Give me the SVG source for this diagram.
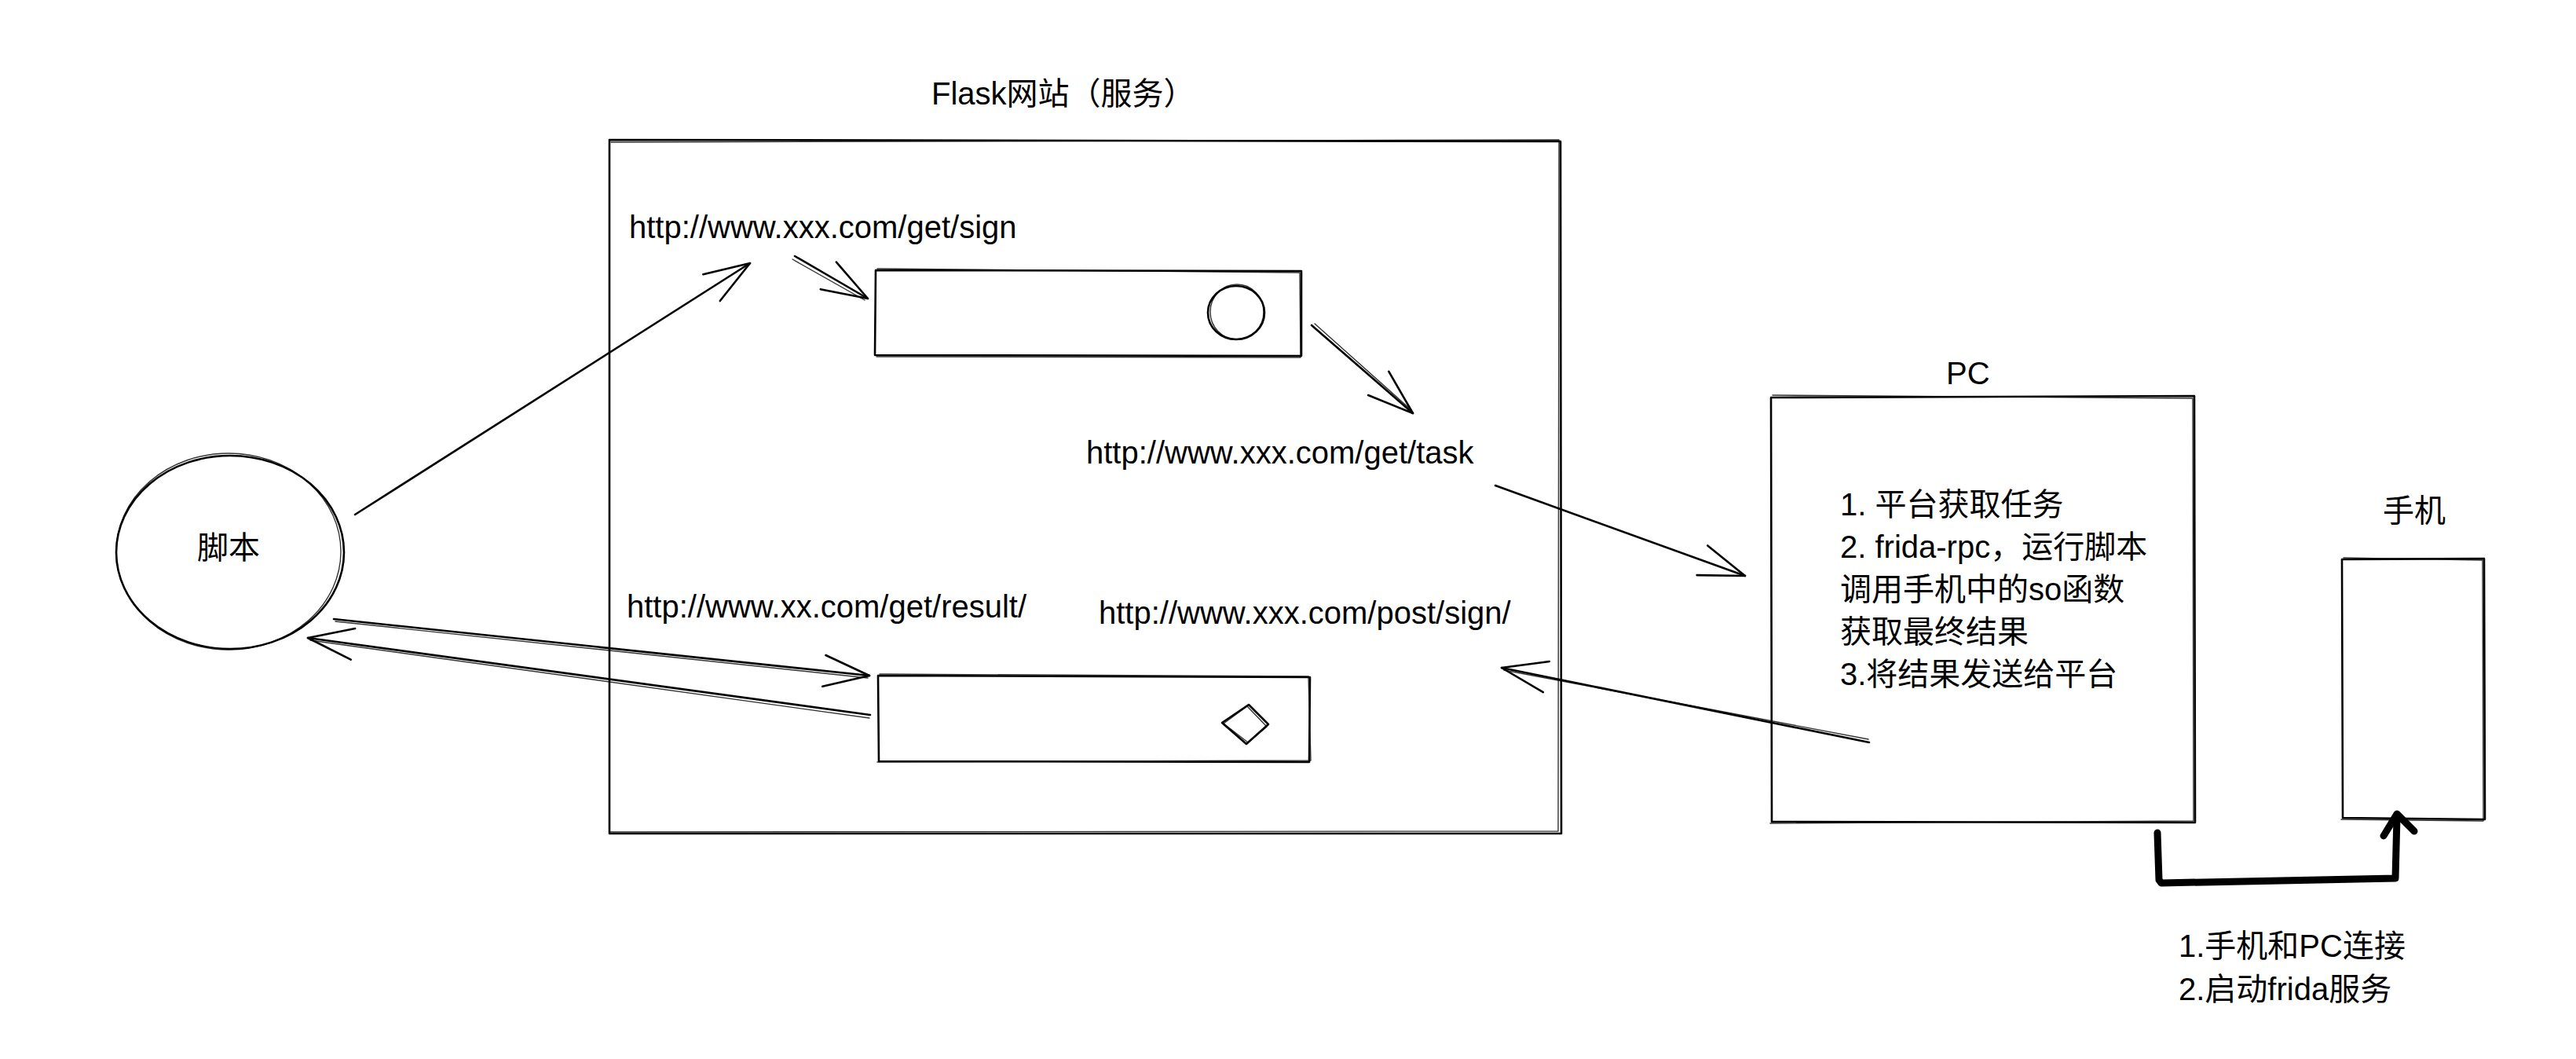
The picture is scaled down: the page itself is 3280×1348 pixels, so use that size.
<svg xmlns="http://www.w3.org/2000/svg" width="3280" height="1348" viewBox="0 0 3280 1348">
<defs>
<style>
.t{font-family:"Liberation Sans","Noto Sans CJK SC",sans-serif;font-size:40px;fill:#000}
.s{fill:none;stroke:#000;stroke-width:2.6;stroke-linecap:round;stroke-linejoin:round}
.s2{fill:none;stroke:#000;stroke-width:1.4;stroke-linecap:round;stroke-linejoin:round;opacity:0.8}
.thick{fill:none;stroke:#000;stroke-width:9;stroke-linecap:round;stroke-linejoin:round}
</style>
<marker id="arr" markerUnits="userSpaceOnUse" markerWidth="80" markerHeight="60" viewBox="-70 -30 80 60" refX="0" refY="0" orient="auto" overflow="visible">
<path d="M-58,-20 L0,0 L-58,20" fill="none" stroke="#000" stroke-width="2.6" stroke-linecap="round" stroke-linejoin="round"/>
</marker>
</defs>
<rect width="3280" height="1348" fill="#fff"/>

<g id="flask">
<path class="s" d="M776,178 L1987,180 L1988,1061 L776,1061 Z"/>
<path class="s2" d="M778,181 L1985,178 L1984,1058 L777,1059"/>
<text class="t" x="1186" y="133">Flask网站（服务）</text>
<text class="t" x="801" y="303">http://www.xxx.com/get/sign</text>
<text class="t" x="1383" y="590">http://www.xxx.com/get/task</text>
<text class="t" x="798" y="786">http://www.xx.com/get/result/</text>
<text class="t" x="1399" y="794">http://www.xxx.com/post/sign/</text>
</g>

<g id="box-sign">
<path class="s" d="M1115,344 L1657,345 L1657,453 L1114,452 Z"/>
<path class="s2" d="M1117,342 L1655,347 L1656,455 L1116,454"/>
<ellipse class="s" cx="1574" cy="398" rx="36" ry="34"/>
<ellipse class="s2" cx="1575" cy="397" rx="34" ry="35"/>
</g>

<g id="box-result">
<path class="s" d="M1118,860 L1668,862 L1667,970 L1119,969 Z"/>
<path class="s2" d="M1120,858 L1666,861 L1669,968 L1117,970"/>
<path class="s" d="M1590,897 L1615,922 L1587,947 L1556,920 Z"/>
<path class="s2" d="M1588,899 L1613,925 L1589,945 L1558,921 Z"/>
</g>

<g id="script">
<ellipse class="s" cx="293" cy="703" rx="145" ry="123"/>
<ellipse class="s2" cx="291" cy="702" rx="143" ry="125"/>
<text class="t" x="251" y="711">脚本</text>
</g>

<g id="pc">
<path class="s" d="M2255,506 L2794,504 L2795,1047 L2256,1046 Z"/>
<path class="s2" d="M2257,503 L2792,507 L2793,1045 L2254,1048"/>
<text class="t" x="2478" y="489">PC</text>
<text class="t" x="2343" y="656">1. 平台获取任务</text>
<text class="t" x="2343" y="710">2. frida-rpc，运行脚本</text>
<text class="t" x="2343" y="764">调用手机中的so函数</text>
<text class="t" x="2343" y="818">获取最终结果</text>
<text class="t" x="2343" y="872">3.将结果发送给平台</text>
</g>

<g id="phone">
<path class="s" d="M2982,712 L3163,711 L3164,1043 L2983,1041 Z"/>
<path class="s2" d="M2984,710 L3161,713 L3162,1045 L2981,1043"/>
<text class="t" x="3034" y="664">手机</text>
</g>

<g id="connectors">
<path class="s" d="M452,655 L955,335" marker-end="url(#arr)"/>
<path class="s" d="M1012,326 L1105,380" marker-end="url(#arr)"/>
<path class="s2" d="M1009,330 L1101,382"/>
<path class="s" d="M1670,414 L1799,526" marker-end="url(#arr)"/>
<path class="s2" d="M1674,412 L1797,522"/>
<path class="s" d="M1904,618 L2222,733" marker-end="url(#arr)"/>
<path class="s" d="M425,788 L1107,860" marker-end="url(#arr)"/>
<path class="s2" d="M427,791 L1105,863"/>
<path class="s" d="M1108,910 L392,812" marker-end="url(#arr)"/>
<path class="s2" d="M1107,914 L395,815"/>
<path class="s" d="M2380,945 L1912,850" marker-end="url(#arr)"/>
<path class="s2" d="M2379,941 L1915,853"/>
<path class="thick" d="M2747,1060 L2749,1120 L2752,1124 L3050,1118 L3052,1040"/>
<path class="thick" d="M3035,1064 L3052,1036 L3074,1058"/>
<g id="connector-label">
<text class="t" x="2774" y="1218">1.手机和PC连接</text>
<text class="t" x="2774" y="1273">2.启动frida服务</text>
</g>
</g>
</svg>
